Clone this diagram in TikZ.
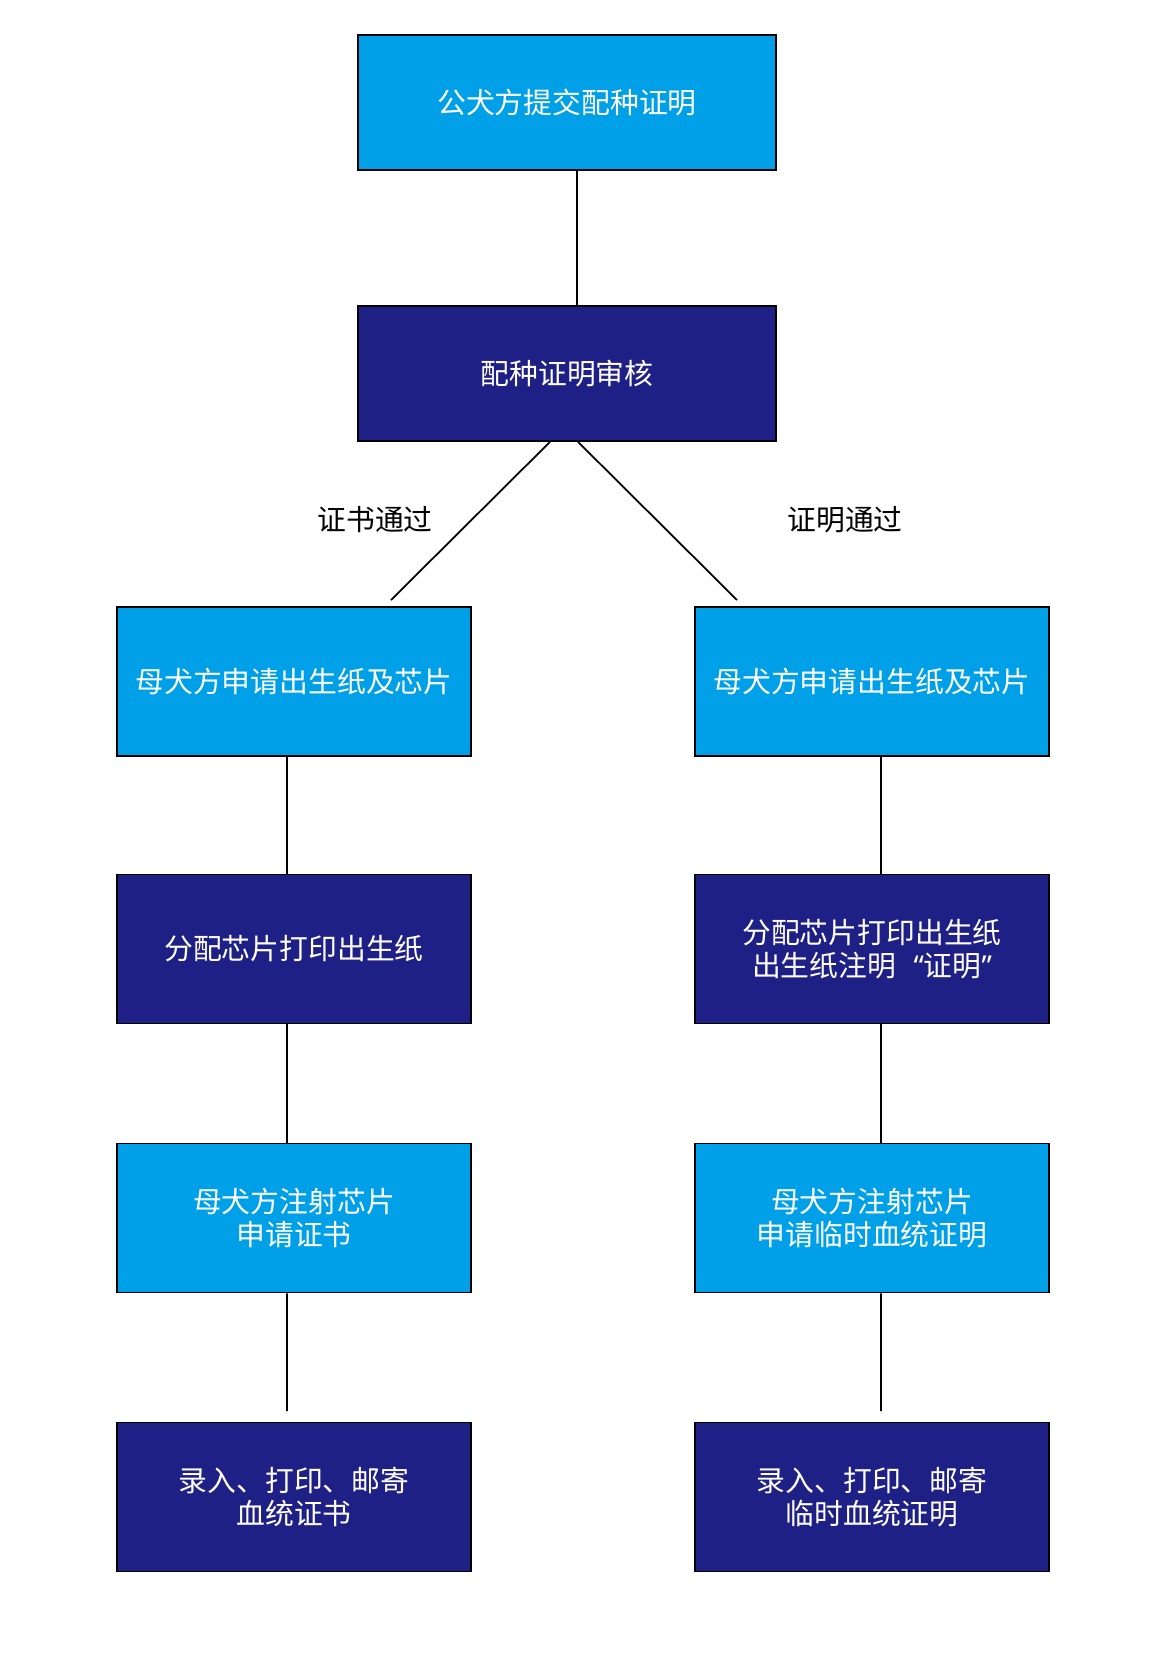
\documentclass[tikz,border=0pt]{standalone}
\usepackage{fontspec}
\setmainfont{Noto Sans CJK SC}
\newfontfamily\quotefont{Noto Sans}
\definecolor{lightblue}{HTML}{00A0E9}
\definecolor{darkblue}{HTML}{1F2086}

\begin{document}
\begin{tikzpicture}
  [x=0.02cm,y=-0.02cm,line width=1pt,
   every node/.style={font=\fontsize{16.4}{19}\selectfont,align=center,inner sep=0pt},
   box/.style={draw=black,text=white,minimum width=7.08cm,minimum height=2.98cm},
   light/.style={box,fill=lightblue},
   dark/.style={box,fill=darkblue}]
  \useasboundingbox (0,0) rectangle (1166,1664);
  \node[light,minimum width=8.36cm,minimum height=2.7cm] (n1) at (567,102.5) {公犬方提交配种证明};
  \node[dark,minimum width=8.36cm,minimum height=2.7cm]  (n2) at (567,373.5) {配种证明审核};
  \node[light] (n3)  at (294,681.5) {母犬方申请出生纸及芯片};
  \node[light] (n4)  at (872,681.5) {母犬方申请出生纸及芯片};
  \node[dark]  (n5)  at (294,949)   {分配芯片打印出生纸};
  \node[dark]  (n6)  at (872,949)   {分配芯片打印出生纸\\出生纸注明\hspace{0.6em}{\quotefont“}证明{\quotefont”}};
  \node[light] (n7)  at (294,1218)  {母犬方注射芯片\\申请证书};
  \node[light] (n8)  at (872,1218)  {母犬方注射芯片\\申请临时血统证明};
  \node[dark]  (n9)  at (294,1497)  {录入、打印、邮寄\\血统证书};
  \node[dark]  (n10) at (872,1497)  {录入、打印、邮寄\\临时血统证明};
  \node (yes1) at (375,520) {证书通过};
  \node (yes2) at (845,520) {证明通过};
  \coordinate (d1) at (391,600);
  \coordinate (d2) at (737,600);
  \coordinate (e1) at (287,1411);
  \coordinate (e2) at (881,1411);
  \draw ([xshift=0.2cm]n1.south) -- ([xshift=0.2cm]n2.north);
  \draw ([xshift=-0.34cm]n2.south) -- (d1);
  \draw ([xshift=0.22cm]n2.south) -- (d2);
  \foreach \from/\to in {n3/n5,n5/n7}
    \draw ([xshift=-0.14cm]\from.south) -- ([xshift=-0.14cm]\to.north);
  \foreach \from/\to in {n4/n6,n6/n8}
    \draw ([xshift=0.18cm]\from.south) -- ([xshift=0.18cm]\to.north);
  \draw ([xshift=-0.14cm]n7.south) -- (e1);
  \draw ([xshift=0.18cm]n8.south) -- (e2);
\end{tikzpicture}
\end{document}
